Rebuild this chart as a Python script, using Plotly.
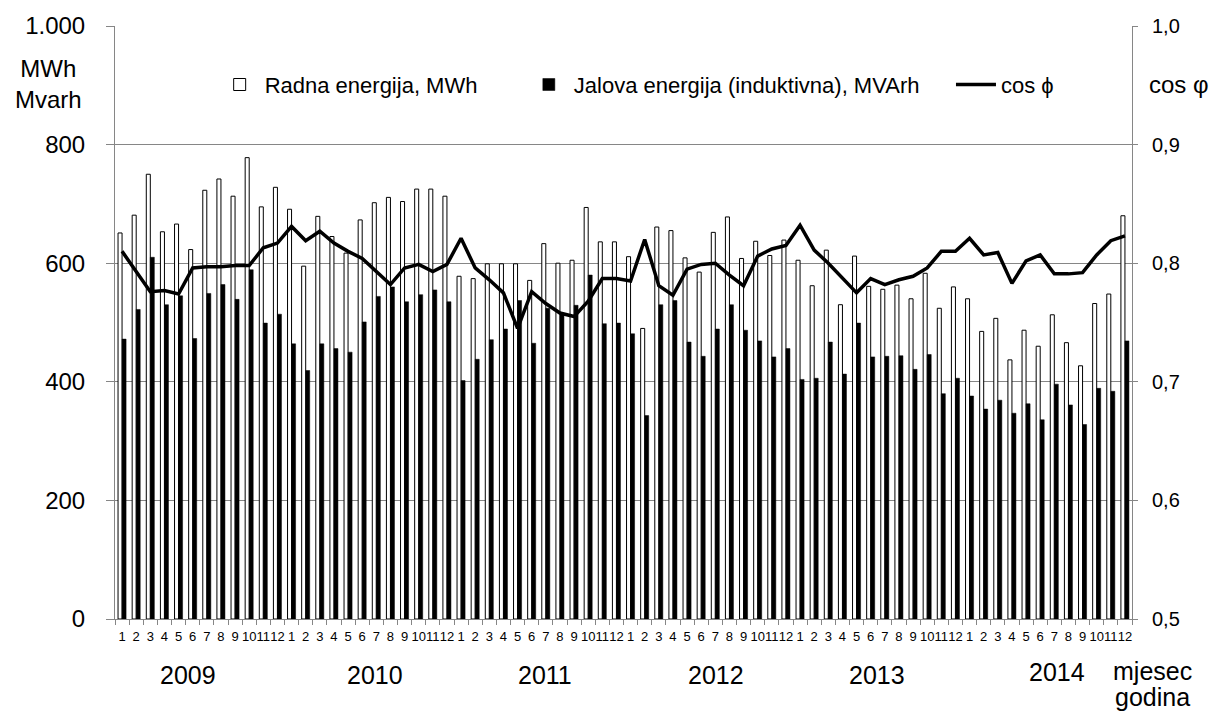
import plotly.graph_objects as go

years = [2009, 2010, 2011, 2012, 2013, 2014]
months = list(range(1, 13))

radna = [
    651, 681, 750, 653, 666, 623, 723, 742, 713, 778, 695, 728,
    691, 595, 679, 645, 617, 673, 702, 711, 704, 725, 725, 713,
    578, 574, 599, 599, 599, 571, 633, 600, 605, 694, 636, 636,
    611, 490, 661, 655, 609, 585, 652, 678, 608, 637, 613, 639,
    605, 562, 622, 530, 612, 561, 556, 563, 540, 583, 524, 560,
    540, 485, 507, 437, 487, 460, 513, 466, 427, 532, 548, 680,
]
jalova = [
    472, 522, 610, 530, 545, 473, 549, 564, 539, 589, 499, 514,
    464, 419, 464, 456, 450, 501, 544, 560, 535, 547, 555, 535,
    402, 438, 471, 489, 537, 465, 524, 516, 529, 580, 498, 499,
    481, 343, 530, 537, 467, 443, 489, 530, 487, 469, 442, 456,
    404, 406, 467, 413, 499, 442, 443, 444, 421, 446, 380, 406,
    376, 354, 369, 347, 363, 336, 396, 361, 328, 389, 384, 469,
]
cosphi = [
    0.810, 0.793, 0.776, 0.777, 0.774, 0.796, 0.797, 0.797, 0.798, 0.798, 0.813, 0.817,
    0.831, 0.819, 0.827, 0.817, 0.810, 0.804, 0.793, 0.782, 0.796, 0.799, 0.793, 0.799,
    0.821, 0.796, 0.786, 0.775, 0.745, 0.776, 0.766, 0.758, 0.755, 0.768, 0.787, 0.787,
    0.785, 0.820, 0.781, 0.773, 0.795, 0.799, 0.800, 0.790, 0.781, 0.806, 0.812, 0.815,
    0.832, 0.811, 0.800, 0.788, 0.775, 0.787, 0.782, 0.786, 0.789, 0.796, 0.810, 0.810,
    0.821, 0.807, 0.809, 0.783, 0.802, 0.807, 0.791, 0.791, 0.792, 0.807, 0.819, 0.823,
]
year_label_x = [0.0718, 0.2557, 0.4228, 0.5910, 0.7493, 0.9263]

cats = [f"{y}-{m:02d}" for y in years for m in months]
month_text = [str(m) for y in years for m in months]

FONT = "Arial, 'Liberation Sans', sans-serif"
GRID = "#868686"

fig = go.Figure()
fig.add_trace(go.Bar(
    x=cats, y=radna, name="Radna energija, MWh",
    marker=dict(color="white", line=dict(color="black", width=1)),
    legend="legend",
))
fig.add_trace(go.Bar(
    x=cats, y=jalova, name="Jalova energija (induktivna), MVArh",
    marker=dict(color="black", line=dict(color="black", width=0.5)),
    legend="legend2",
))
fig.add_trace(go.Scatter(
    x=cats, y=cosphi, name="cos ϕ", mode="lines",
    line=dict(color="black", width=3.5),
    yaxis="y2", legend="legend3",
))

leg_common = dict(orientation="h", yanchor="middle", y=0.901, xanchor="left",
                  bgcolor="rgba(0,0,0,0)", font=dict(family=FONT, size=22, color="black"),
                  itemwidth=40, visible=True)

fig.update_layout(
    width=1215, height=715,
    margin=dict(l=115, r=83, t=24, b=96),
    paper_bgcolor="white", plot_bgcolor="white",
    separators=",.",
    showlegend=True,
    barmode="group", bargap=0.43, bargroupgap=0,
    font=dict(family=FONT, color="black"),
    legend=dict(leg_common, x=0.098),
    legend2=dict(leg_common, x=0.402),
    legend3=dict(leg_common, x=0.822),
    xaxis=dict(
        type="category", tickvals=cats, ticktext=month_text, tickangle=0,
        tickson="boundaries", ticks="outside", ticklen=5, tickcolor=GRID,
        showline=True, linecolor=GRID, linewidth=1, showgrid=False,
        ticklabelstandoff=5,
        tickfont=dict(family=FONT, size=13, color="black"),
    ),
    yaxis=dict(
        range=[0, 1000], dtick=200, tickformat=",d",
        showgrid=True, gridcolor=GRID, gridwidth=1,
        showline=True, linecolor=GRID, linewidth=1,
        ticks="outside", ticklen=8, tickcolor=GRID,
        ticklabelstandoff=16,
        tickfont=dict(family=FONT, size=24, color="black"),
        zeroline=False,
    ),
    yaxis2=dict(
        overlaying="y", side="right", range=[0.5, 1.0], dtick=0.1, tickformat=".1f",
        showgrid=False, showline=True, linecolor=GRID, linewidth=1,
        ticks="outside", ticklen=5, tickcolor=GRID,
        ticklabelstandoff=10,
        tickfont=dict(family=FONT, size=20, color="black"),
        zeroline=False,
    ),
)

annotations = []
for yr, xp in zip(years, year_label_x):
    annotations.append(dict(
        text=str(yr), xref="paper", yref="paper", x=xp,
        y=(619 - (672 if yr == 2014 else 675)) / 595,
        xanchor="center", yanchor="middle", showarrow=False,
        font=dict(family=FONT, size=25, color="black"),
    ))
annotations += [
    dict(text="MWh<br>Mvarh", xref="paper", yref="paper", x=(48 - 115) / 1017,
         y=(619 - 82) / 595, xanchor="center", yanchor="middle", showarrow=False,
         font=dict(family=FONT, size=24, color="black")),
    dict(text="cos φ", xref="paper", yref="paper", x=(1179 - 115) / 1017,
         y=(619 - 83) / 595, xanchor="center", yanchor="middle", showarrow=False,
         font=dict(family=FONT, size=24, color="black")),
    dict(text="mjesec", xref="paper", yref="paper", x=(1152 - 115) / 1017,
         y=(619 - 671) / 595, xanchor="center", yanchor="middle", showarrow=False,
         font=dict(family=FONT, size=25, color="black")),
    dict(text="godina", xref="paper", yref="paper", x=(1152 - 115) / 1017,
         y=(619 - 697) / 595, xanchor="center", yanchor="middle", showarrow=False,
         font=dict(family=FONT, size=25, color="black")),
]
fig.update_layout(annotations=annotations)

fig.write_html("out.html",
               config={"displayModeBar": False},
               post_script="document.body.style.margin='0';document.body.style.overflow='hidden';")
